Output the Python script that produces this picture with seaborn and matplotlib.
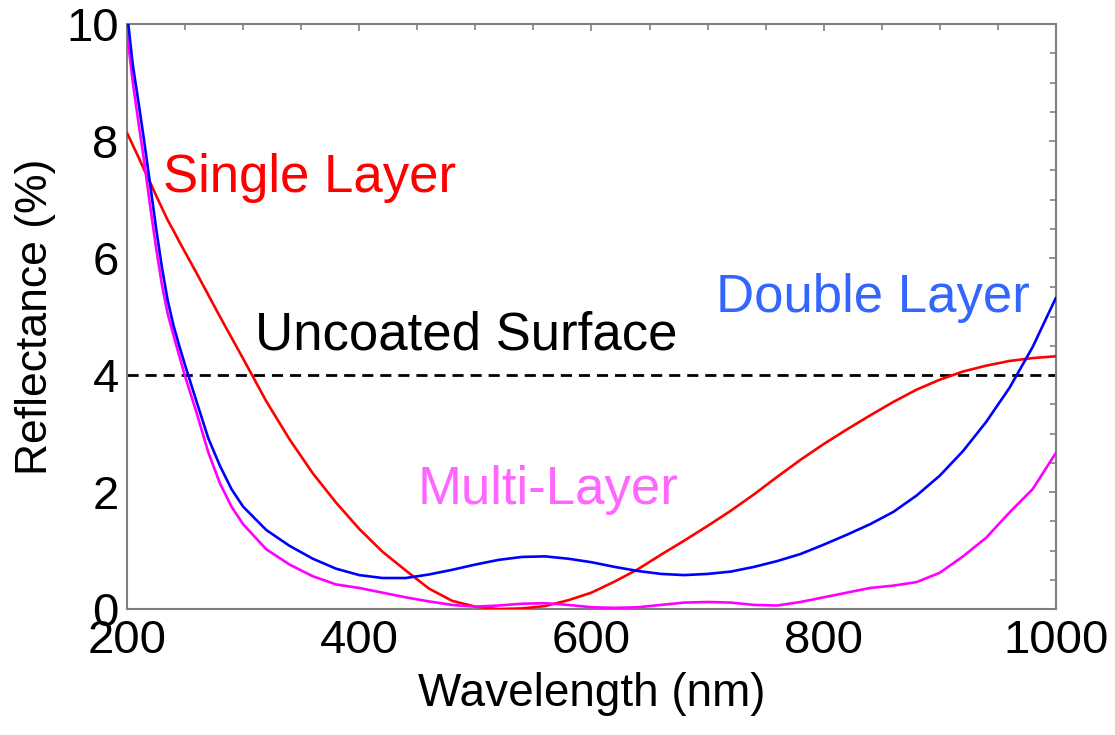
import matplotlib
matplotlib.use("Agg")
import matplotlib.pyplot as plt
from matplotlib.ticker import MultipleLocator
import seaborn as sns
import pandas as pd

# ---- data ----
wavelength = [200, 205, 210, 215, 220, 225, 230, 235, 240, 245, 250,
              260, 270, 280, 290, 300, 320, 340, 360, 380, 400, 420, 440, 460, 480,
              500, 520, 540, 560, 580, 600, 620, 640, 660, 680, 700, 720, 740, 760,
              780, 800, 820, 840, 860, 880, 900, 920, 940, 960, 980, 1000]
single_layer = [8.14, 7.93, 7.72, 7.5, 7.29, 7.07, 6.86, 6.65, 6.47, 6.28, 6.1,
                5.74, 5.37, 5.0, 4.64, 4.28, 3.55, 2.9, 2.32, 1.82, 1.37, 0.98, 0.66, 0.35, 0.14,
                0.04, 0.0, 0.01, 0.05, 0.15, 0.28, 0.47, 0.68, 0.93, 1.17, 1.42, 1.68, 1.96, 2.26,
                2.55, 2.82, 3.07, 3.31, 3.54, 3.75, 3.92, 4.06, 4.16, 4.24, 4.29, 4.32]
double_layer = [10.2, 9.3, 8.65, 7.97, 7.25, 6.52, 5.85, 5.28, 4.85, 4.5, 4.17,
                3.54, 2.92, 2.45, 2.05, 1.75, 1.35, 1.08, 0.86, 0.69, 0.58, 0.53, 0.53, 0.59, 0.67,
                0.76, 0.84, 0.89, 0.9, 0.86, 0.8, 0.72, 0.65, 0.6, 0.58, 0.6, 0.64, 0.72, 0.82,
                0.94, 1.1, 1.27, 1.45, 1.66, 1.94, 2.28, 2.7, 3.2, 3.78, 4.48, 5.32]
multi_layer = [9.85, 9.0, 8.3, 7.62, 6.88, 6.18, 5.55, 5.05, 4.68, 4.33, 3.98,
               3.35, 2.68, 2.15, 1.75, 1.45, 1.02, 0.76, 0.56, 0.42, 0.36, 0.28, 0.2, 0.13, 0.07,
               0.04, 0.06, 0.09, 0.1, 0.07, 0.03, 0.02, 0.03, 0.07, 0.11, 0.12, 0.11, 0.07, 0.06,
               0.12, 0.2, 0.28, 0.36, 0.4, 0.46, 0.62, 0.9, 1.22, 1.65, 2.05, 2.67]
uncoated = 4.0

x_ticks = [200, 400, 600, 800, 1000]
y_ticks = [0, 2, 4, 6, 8, 10]

labels = ["Single Layer", "Double Layer", "Multi-Layer", "Uncoated Surface"]

# ---- plot ----
sns.set_style("white")
plt.rcParams['font.family'] = ['Liberation Sans', 'DejaVu Sans']

fig = plt.figure(figsize=(11.15, 7.35), dpi=100)
ax = fig.add_axes([0.1139, 0.1714, 0.8331, 0.7959])

df = pd.DataFrame({"wl": wavelength, "single": single_layer,
                   "double": double_layer, "multi": multi_layer})

ax.axhline(uncoated, color="black", lw=2.0, ls=(0, (4, 2.5)), zorder=1)
sns.lineplot(data=df, x="wl", y="single", color="#FF0000", lw=1.9, ax=ax,
             estimator=None, sort=False, zorder=3)
sns.lineplot(data=df, x="wl", y="multi", color="#FF00FF", lw=1.9, ax=ax,
             estimator=None, sort=False, zorder=3)
sns.lineplot(data=df, x="wl", y="double", color="#0000FF", lw=1.9, ax=ax,
             estimator=None, sort=False, zorder=4)

ax.set_xlim(200, 1000)
ax.set_ylim(0, 10)
ax.set_xticks(x_ticks)
ax.set_yticks(y_ticks)
ax.xaxis.set_minor_locator(MultipleLocator(50))
ax.yaxis.set_minor_locator(MultipleLocator(0.5))

for s in ax.spines.values():
    s.set_color("#808080")
    s.set_linewidth(1.5)
    s.set_visible(True)

ax.tick_params(which="both", direction="in", top=True, right=True,
               color="#808080", width=1.2)
ax.tick_params(which="major", length=5, labelsize=34, labelcolor="black")
ax.tick_params(which="minor", length=4)
ax.tick_params(axis="x", which="major", pad=7)
ax.tick_params(axis="y", which="major", pad=6)

ax.set_xlabel("Wavelength (nm)", fontsize=33, labelpad=7, color="black")
ax.set_ylabel("Reflectance (%)", fontsize=32, labelpad=7, color="black")

ax.text(357, 7.37, labels[0], color="#FF0000", fontsize=38, ha="center", va="center")
ax.text(842, 5.32, labels[1], color="#3366FF", fontsize=38, ha="center", va="center")
ax.text(563, 2.03, labels[2], color="#FF66FF", fontsize=38, ha="center", va="center")
ax.text(492, 4.67, labels[3], color="black", fontsize=38, ha="center", va="center")

fig.savefig("out.png", dpi=100)
